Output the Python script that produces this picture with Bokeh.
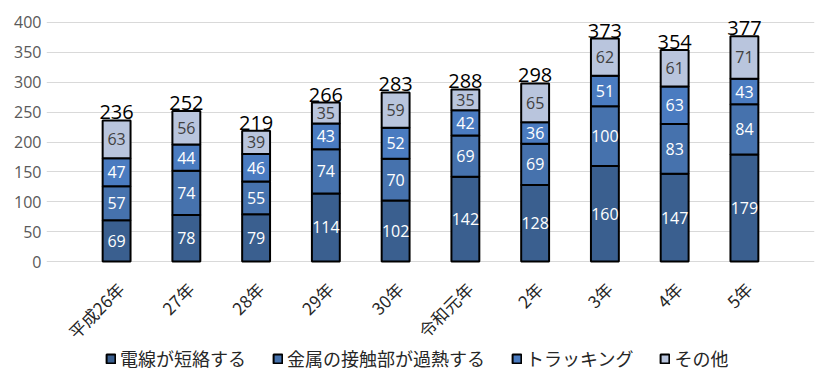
import math
from bokeh.plotting import figure
from bokeh.models import ColumnDataSource, FactorRange, Range1d, FixedTicker, Legend, LegendItem
from bokeh.core.properties import value
from bokeh.embed import file_html
from bokeh.resources import INLINE

years = ["平成26年", "27年", "28年", "29年", "30年", "令和元年", "2年", "3年", "4年", "5年"]
short_circuit = [69, 78, 79, 114, 102, 142, 128, 160, 147, 179]
metal_overheat = [57, 74, 55, 74, 70, 69, 69, 100, 83, 84]
tracking = [47, 44, 46, 43, 52, 42, 36, 51, 63, 43]
other = [63, 56, 39, 35, 59, 35, 65, 62, 61, 71]
series_names = ["電線が短絡する", "金属の接触部が過熱する", "トラッキング", "その他"]
y_ticks = [0, 50, 100, 150, 200, 250, 300, 350, 400]

colors = ["#3A5F8F", "#4672AD", "#4A7BC0", "#B9C5DD"]
keys = ["s0", "s1", "s2", "s3"]
vals = [short_circuit, metal_overheat, tracking, other]

data = {"x": years}
for k, v in zip(keys, vals):
    data[k] = v
src = ColumnDataSource(data)

# frame spans the whole height: bars region (0..400) plus room for totals above
# and for the rotated category labels and legend below
p = figure(x_range=FactorRange(*years, range_padding=0.5048, range_padding_units="absolute"),
           y_range=Range1d(-194.1, 436.8),
           frame_width=768, frame_height=377,
           output_backend="svg", toolbar_location=None,
           min_border_left=46, min_border_right=4, min_border_top=0, min_border_bottom=0)
p.outline_line_color = None

renderers = p.vbar_stack(keys, x="x", width=0.4, source=src, color=colors,
                         line_color="black", line_width=2)

# segment labels
lab_x, lab_y, lab_t, lab_c = [], [], [], []
for i, y in enumerate(years):
    base = 0
    for j, v in enumerate(vals):
        val = v[i]
        lab_x.append(y)
        lab_y.append(base + val / 2)
        lab_t.append(str(val))
        lab_c.append("#404040" if j == 3 else "white")
        base += val
p.text(x=lab_x, y=lab_y, text=lab_t, text_color=lab_c, text_align="center",
       text_baseline="middle", text_font=value("Open Sans"), text_font_size="16px")

totals = [sum(v[i] for v in vals) for i in range(len(years))]
p.text(x=years, y=totals, text=[str(t) for t in totals], text_color="black",
       text_align="center", text_baseline="bottom", y_offset=-1,
       text_font=value("Open Sans"), text_font_size="20px")

# rotated category labels under the baseline
p.text(x=years, y=[0] * len(years), text=years, angle=math.pi / 4,
       text_align="right", text_baseline="middle", x_offset=4, y_offset=24,
       text_color="#262626", text_font=value("Noto Sans CJK JP"), text_font_size="17px")

p.yaxis.ticker = FixedTicker(ticks=y_ticks)
p.yaxis.axis_line_color = None
p.yaxis.major_tick_line_color = None
p.yaxis.minor_tick_line_color = None
p.yaxis.major_tick_out = 0
p.yaxis.major_label_text_font = "Open Sans"
p.yaxis.major_label_text_font_size = "16px"
p.yaxis.major_label_text_color = "#595959"
p.yaxis.major_label_standoff = 5

p.xaxis.visible = False

p.xgrid.grid_line_color = None
p.ygrid.grid_line_color = "#D9D9D9"
p.ygrid.grid_line_width = 1

legend = Legend(items=[LegendItem(label=n, renderers=[r]) for n, r in zip(series_names, renderers)],
                orientation="horizontal", location=(59, 6))
legend.label_text_font = "Noto Sans CJK JP"
legend.label_text_font_size = "18px"
legend.label_text_color = "#262626"
legend.label_height = 20
legend.glyph_width = 11
legend.glyph_height = 11
legend.label_standoff = 4
legend.spacing = 26
legend.border_line_color = None
legend.background_fill_alpha = 0
legend.padding = 0
legend.margin = 0
p.add_layout(legend, "center")

open("out.html", "w").write(file_html(p, INLINE))
